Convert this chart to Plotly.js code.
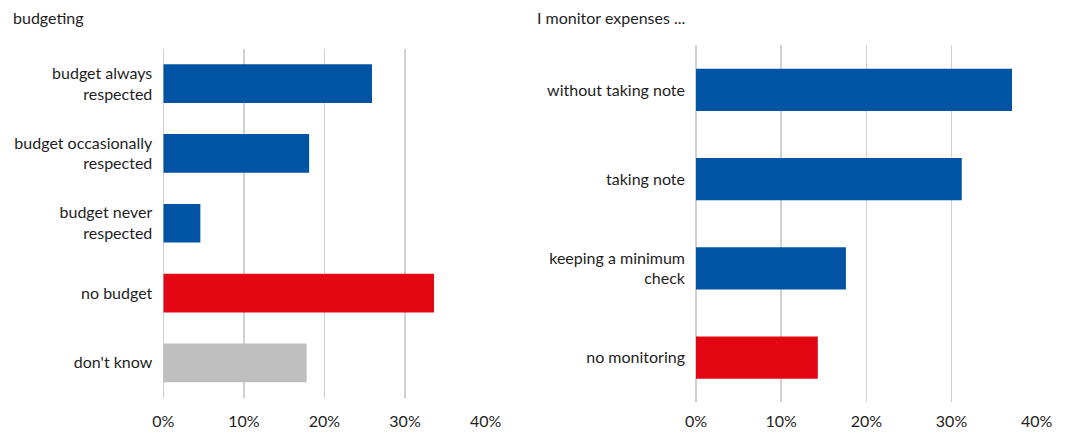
<!DOCTYPE html>
<html>
<head>
<meta charset="utf-8">
<script src="https://cdn.plot.ly/plotly-3.0.1.min.js"></script>
<style>html,body{margin:0;padding:0;background:#fff;}#chart{width:1070px;height:432px;}</style>
</head>
<body>
<div id="chart"></div>
<script>
// Left panel: budgeting
const budgetCategories = ["budget always<br>respected", "budget occasionally<br>respected", "budget never<br>respected", "no budget", "don't know"];
const budgetValues = [0.259, 0.181, 0.046, 0.336, 0.178];
const budgetColors = ["#0054A3", "#0054A3", "#0054A3", "#E30613", "#BFBFBF"];

// Right panel: I monitor expenses ...
const monitorCategories = ["without taking note", "taking note", "keeping a minimum<br>check", "no monitoring"];
const monitorValues = [0.371, 0.312, 0.176, 0.143];
const monitorColors = ["#0054A3", "#0054A3", "#0054A3", "#E30613"];

const xTickVals = [0, 0.1, 0.2, 0.3, 0.4];
const xTickText = ["0%", "10%", "20%", "30%", "40%"];

const titles = ["budgeting", "I monitor expenses ..."];

const W = 1070, H = 432;
const FONT = "Lato, 'Open Sans', sans-serif";
const FS = 16;
const TXT = "#1e1e1e";
const GRID = "#d0d0d0";

const traces = [
  {
    type: "bar", orientation: "h",
    y: budgetCategories, x: budgetValues,
    marker: {color: budgetColors, line: {width: 0}},
    width: 0.555,
    xaxis: "x", yaxis: "y",
    hoverinfo: "skip"
  },
  {
    type: "bar", orientation: "h",
    y: monitorCategories, x: monitorValues,
    marker: {color: monitorColors, line: {width: 0}},
    width: 0.474,
    xaxis: "x2", yaxis: "y2",
    hoverinfo: "skip"
  }
];

function xAxis(d0, d1, anchor, standoff) {
  return {
    domain: [d0 / W, d1 / W], anchor: anchor,
    range: [0, 0.4], fixedrange: true,
    tickvals: xTickVals, ticktext: xTickText,
    showgrid: true, gridcolor: GRID, gridwidth: 1.5,
    zeroline: true, zerolinecolor: GRID, zerolinewidth: 1.5,
    showline: false, ticks: "",
    ticklabelstandoff: standoff,
    tickfont: {family: FONT, size: FS, color: TXT}
  };
}
function yAxis(top, bottom, anchor, cats) {
  return {
    domain: [(H - bottom) / H, (H - top) / H], anchor: anchor,
    type: "category", categoryorder: "array", categoryarray: cats,
    autorange: "reversed", fixedrange: true,
    showgrid: false, zeroline: false, showline: false, ticks: "",
    ticklabelstandoff: 10,
    tickfont: {family: FONT, size: FS, color: TXT}
  };
}

const layout = {
  width: W, height: H,
  margin: {l: 0, r: 0, t: 0, b: 0},
  paper_bgcolor: "#fff", plot_bgcolor: "#fff",
  showlegend: false,
  font: {family: FONT, size: FS, color: TXT},
  xaxis: xAxis(163.3, 485.6, "y", 12),
  yaxis: yAxis(48.8, 397.7, "x", budgetCategories),
  xaxis2: xAxis(696, 1036.7, "y2", 8),
  yaxis2: yAxis(45.4, 402.1, "x2", monitorCategories),
  annotations: [
    {text: titles[0], xref: "paper", yref: "paper", x: 11 / W, y: 1 - 17.5 / H,
     xanchor: "left", yanchor: "middle", showarrow: false,
     font: {family: FONT, size: FS, color: TXT}},
    {text: titles[1], xref: "paper", yref: "paper", x: 535 / W, y: 1 - 17.5 / H,
     xanchor: "left", yanchor: "middle", showarrow: false,
     font: {family: FONT, size: FS, color: TXT}}
  ]
};

Plotly.newPlot("chart", traces, layout, {displayModeBar: false, staticPlot: true});
</script>
</body>
</html>
